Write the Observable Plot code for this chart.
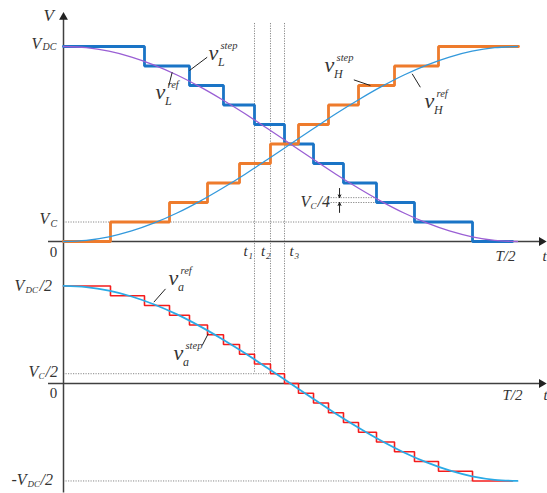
<!DOCTYPE html>
<html>
<head>
<meta charset="utf-8">
<script src="https://cdn.jsdelivr.net/npm/d3@7"></script>
<script src="https://cdn.jsdelivr.net/npm/@observablehq/plot@0.6"></script>
<style>
  html, body { margin: 0; padding: 0; background: #fff; }
  #chart svg { display: block; }
</style>
</head>
<body>
<div id="chart"></div>
<script>
// ---- data (time in units of T/2, voltage in units of V_DC) ----
const tL = [0, 0.1784, 0.2775, 0.3524, 0.4207, 0.4868, 0.5507, 0.6167, 0.6894, 0.7731, 0.9009, 0.9890];
const vL = [1, 0.9, 0.8, 0.7, 0.6, 0.5, 0.4, 0.3, 0.2, 0.1, 0, 0];
const tH = [0, 0.1035, 0.2335, 0.3172, 0.3877, 0.4559, 0.5176, 0.5837, 0.6498, 0.7291, 0.8260, 1.0022];
const vH = [0, 0.1, 0.2, 0.3, 0.4, 0.5, 0.6, 0.7, 0.8, 0.9, 1, 1];
const tA = [0, 0.1035, 0.1784, 0.2335, 0.2775, 0.3172, 0.3524, 0.3877, 0.4207, 0.4559, 0.4868, 0.5176, 0.5507, 0.5837, 0.6167, 0.6498, 0.6894, 0.7291, 0.7731, 0.8260, 0.9009, 0.9890];
const vA = [0.5, 0.45, 0.4, 0.35, 0.3, 0.25, 0.2, 0.15, 0.1, 0.05, 0, -0.05, -0.1, -0.15, -0.2, -0.25, -0.3, -0.35, -0.4, -0.45, -0.5, -0.5];
const tRef = [0, 0.05, 0.1, 0.15, 0.2, 0.25, 0.3, 0.35, 0.4, 0.45, 0.5, 0.55, 0.6, 0.65, 0.7, 0.75, 0.8, 0.85, 0.9, 0.95, 1];
const refL = [1.000, 0.994, 0.976, 0.946, 0.905, 0.854, 0.794, 0.727, 0.655, 0.578, 0.500, 0.422, 0.345, 0.273, 0.206, 0.146, 0.095, 0.054, 0.024, 0.006, 0.000];
const refH = [0.000, 0.006, 0.024, 0.054, 0.095, 0.146, 0.206, 0.273, 0.345, 0.422, 0.500, 0.578, 0.655, 0.727, 0.794, 0.854, 0.905, 0.946, 0.976, 0.994, 1.000];
const refA = [0.500, 0.494, 0.476, 0.446, 0.405, 0.354, 0.294, 0.227, 0.155, 0.078, 0.000, -0.078, -0.155, -0.227, -0.294, -0.354, -0.405, -0.446, -0.476, -0.494, -0.500];
const tMarks = [0.4207, 0.4559, 0.4868];
const tMarkLabels = ["1", "2", "3"];
const VC = 0.1;          // V_C level
const VC4 = 0.025;       // V_C/4 gap
const OFF = -0.728;      // vertical offset of the lower panel (its zero line)

// ---- helpers ----
const zip = (ts, vs) => ts.map((t, i) => ({t, v: vs[i]}));
const FONT = "Liberation Serif, Times New Roman, serif";
const INK = "#333";
function txt(x, y, s, o = {}) {
  return Plot.text([{x, y, s}], {
    x: "x", y: "y", text: "s", textAnchor: "start", lineAnchor: "bottom",
    fontFamily: FONT, fontStyle: "italic", fill: INK, fontSize: 16, ...o
  });
}
function vlab(x, y, main, sup, sub) {
  return [
    txt(x, y, main, {fontSize: 22}),
    txt(x, y, sup, {fontSize: 10.5, dx: 12, dy: -11}),
    txt(x, y, sub, {fontSize: 12, dx: 9.5, dy: 6})
  ];
}
const dotted = {stroke: "#888", strokeWidth: 1, strokeDasharray: "1.2,1.3"};
const axisStyle = {stroke: "#404040", strokeWidth: 1.5};

const chart = Plot.plot({
  width: 547, height: 493,
  marginTop: 0, marginRight: 0, marginBottom: 0, marginLeft: 0,
  x: {domain: [0, 1], range: [63, 517], axis: null},
  y: {domain: [0, 1], range: [241, 46], axis: null},
  style: {background: "#fff", overflow: "visible"},
  marks: [
    // vertical dotted time markers
    Plot.ruleX(tMarks, {x: d => d, y1: 1.118, y2: (d, i) => i < 2 ? VC / 2 + OFF : OFF, ...dotted}),
    // horizontal dotted guides
    Plot.ruleY([VC], {x1: 0, x2: tL[9], ...dotted}),
    Plot.ruleY([0.2, 0.2 + VC4], {x1: 0.584, x2: tL[8], ...dotted}),
    Plot.ruleY([VC / 2 + OFF], {x1: 0, x2: tMarks[1], ...dotted}),
    Plot.ruleY([-0.5 + OFF], {x1: 0, x2: tL[10], ...dotted}),
    // axes
    Plot.ruleX([0], {y1: 1.15, y2: -1.29, ...axisStyle}),
    Plot.ruleY([0, OFF], {x1: -0.033, x2: 1.053, ...axisStyle}),
    Plot.dot([{x: 0, y: 1.15}], {x: "x", y: "y", symbol: "triangle", r: 3.3, fill: "#222", stroke: null}),
    Plot.dot([{x: 1.053, y: 0}, {x: 1.053, y: OFF}], {x: "x", y: "y", symbol: "triangle", r: 3.3, rotate: 90, fill: "#222", stroke: null}),
    // step waveforms
    Plot.line(zip(tL, vL), {x: "t", y: "v", curve: "step-after", stroke: "#1a74c6", strokeWidth: 2.8, strokeLinejoin: "miter"}),
    Plot.line(zip(tH, vH), {x: "t", y: "v", curve: "step-after", stroke: "#ee7b2c", strokeWidth: 2.8, strokeLinejoin: "miter"}),
    Plot.line(zip(tA, vA), {x: "t", y: d => d.v + OFF, curve: "step-after", stroke: "#f41c1c", strokeWidth: 1.6, strokeLinejoin: "miter"}),
    // reference waveforms
    Plot.line(zip(tRef, refL), {x: "t", y: "v", curve: "catmull-rom", stroke: "#9a5fd4", strokeWidth: 1.3}),
    Plot.line(zip(tRef, refH), {x: "t", y: "v", curve: "catmull-rom", stroke: "#3399dc", strokeWidth: 1.3}),
    Plot.line(zip(tRef, refA), {x: "t", y: d => d.v + OFF, curve: "catmull-rom", stroke: "#2aaae6", strokeWidth: 1.8}),
    // V_C/4 arrows
    Plot.arrow([{x: 0.608, y1: 0.272, y2: 0.2 + VC4}, {x: 0.608, y1: 0.149, y2: 0.2}],
      {x1: "x", x2: "x", y1: "y1", y2: "y2", stroke: "#222", strokeWidth: 1, headLength: 5, headAngle: 50}),
    // leader lines
    Plot.link([
      {x1: 0.2775, y1: 0.877, x2: 0.3165, y2: 0.945},
      {x1: 0.2394, y1: 0.868, x2: 0.232, y2: 0.800},
      {x1: 0.6395, y1: 0.829, x2: 0.676, y2: 0.800},
      {x1: 0.768, y1: 0.860, x2: 0.786, y2: 0.791},
      {x1: 0.199, y1: -0.311, x2: 0.2247, y2: -0.243},
      {x1: 0.3187, y1: -0.473, x2: 0.3055, y2: -0.533}
    ], {x1: "x1", y1: "y1", x2: "x2", y2: "y2", stroke: "#222", strokeWidth: 1}),
    // waveform labels
    ...vlab(0.3194, 0.933, "v", "step", "L"),
    ...vlab(0.2026, 0.733, "v", "ref", "L"),
    ...vlab(0.575, 0.867, "v", "step", "H"),
    ...vlab(0.795, 0.687, "v", "ref", "H"),
    ...vlab(0.2313, -0.2256, "v", "ref", "a"),
    ...vlab(0.2423, -0.610, "v", "step", "a"),
    // axis labels, upper panel
    txt(0, 1.15, "V", {dx: -20, dy: 4, fontSize: 17}),
    txt(0, 1, "V", {dx: -32, dy: 2}),
    txt(0, 1, "DC", {dx: -21, dy: 3, fontSize: 10}),
    txt(0, VC, "V", {dx: -24, dy: 2}),
    txt(0, VC, "C", {dx: -13, dy: 5, fontSize: 10}),
    txt(0, 0, "0", {dx: -10, dy: 15, textAnchor: "middle", fontStyle: "normal", fontSize: 15}),
    txt(1, 0, "T/2", {dx: -22, dy: 19, fontSize: 15}),
    txt(1, 0, "t", {dx: 25, dy: 19, fontSize: 15}),
    ...tMarks.flatMap((t, i) => {
      const dx = i === 2 ? 5 : -11 + (i === 1 ? 1.5 : 0);
      return [
        txt(t, 0, "t", {dx, dy: 14, fontSize: 15}),
        txt(t, 0, tMarkLabels[i], {dx: dx + 5, dy: 17, fontSize: 9})
      ];
    }),
    txt(0.522, 0.2, "V", {dy: 4}),
    txt(0.522, 0.2, "C", {dx: 10, dy: 6, fontSize: 9}),
    txt(0.522, 0.2, "/4", {dx: 17, dy: 4}),
    // axis labels, lower panel
    txt(0, 0.5 + OFF, "V", {dx: -49, dy: 5}),
    txt(0, 0.5 + OFF, "DC", {dx: -38, dy: 7, fontSize: 9}),
    txt(0, 0.5 + OFF, "/2", {dx: -24, dy: 5}),
    txt(0, VC / 2 + OFF, "V", {dx: -35, dy: 3}),
    txt(0, VC / 2 + OFF, "C", {dx: -25, dy: 5, fontSize: 9}),
    txt(0, VC / 2 + OFF, "/2", {dx: -18, dy: 3}),
    txt(0, -0.5 + OFF, "-V", {dx: -52, dy: 4}),
    txt(0, -0.5 + OFF, "DC", {dx: -36, dy: 6, fontSize: 9}),
    txt(0, -0.5 + OFF, "/2", {dx: -23, dy: 4}),
    txt(0, OFF, "0", {dx: -10, dy: 15, textAnchor: "middle", fontStyle: "normal", fontSize: 15}),
    txt(1, OFF, "T/2", {dx: -15, dy: 17, fontSize: 15}),
    txt(1, OFF, "t", {dx: 26, dy: 17, fontSize: 15})
  ]
});
document.getElementById("chart").append(chart);
</script>
</body>
</html>
